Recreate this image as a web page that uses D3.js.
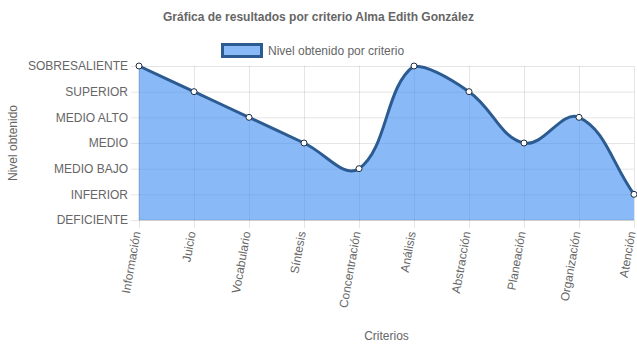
<!DOCTYPE html>
<html>
<head>
<meta charset="utf-8">
<script src="https://cdn.jsdelivr.net/npm/d3@7"></script>
<style>
  body { margin: 0; background: #fff; }
  svg text { font-family: "Liberation Sans", Arial, Helvetica, sans-serif; fill: #666; }
</style>
</head>
<body>
<div id="chart"></div>
<script>
// data
const criterios = ["Información", "Juicio", "Vocabulario", "Síntesis", "Concentración",
                   "Análisis", "Abstracción", "Planeación", "Organización", "Atención"];
const niveles = [6, 5, 4, 3, 2, 6, 5, 3, 4, 1];
const nivelLabels = ["DEFICIENTE", "INFERIOR", "MEDIO BAJO", "MEDIO", "MEDIO ALTO", "SUPERIOR", "SOBRESALIENTE"];
const title = "Gráfica de resultados por criterio Alma Edith González";
const legendLabel = "Nivel obtenido por criterio";

const width = 637, height = 348;
const margin = {top: 66, right: 3, bottom: 128, left: 139};
const innerWidth = width - margin.left - margin.right;
const innerHeight = height - margin.top - margin.bottom;

const lineColor = "#2c5b91";
const fillColor = "rgba(58,138,242,0.6)";
const gridColor = "rgba(0,0,0,0.1)";

const svg = d3.select("#chart").append("svg")
    .attr("width", width)
    .attr("height", height);

const xScale = d3.scalePoint()
    .domain(criterios)
    .range([0, innerWidth]);

const yScale = d3.scaleLinear()
    .domain([0, nivelLabels.length - 1])
    .range([innerHeight, 0]);

const g = svg.append("g")
    .attr("transform", `translate(${margin.left}, ${margin.top})`);

// grid + axes
const yAxis = d3.axisLeft(yScale)
    .tickValues(d3.range(nivelLabels.length))
    .tickFormat(i => nivelLabels[i])
    .tickSize(-innerWidth)
    .tickPadding(11);

const yAxisG = g.append("g").call(yAxis);
yAxisG.select(".domain").remove();
yAxisG.selectAll("line")
    .attr("x1", -8)
    .attr("stroke", gridColor);
yAxisG.selectAll("text")
    .attr("x", -11)
    .style("font-size", "12px");

const xAxis = d3.axisBottom(xScale)
    .tickSize(-innerHeight);

const xAxisG = g.append("g")
    .attr("transform", `translate(0, ${innerHeight})`)
    .call(xAxis);
xAxisG.select(".domain").remove();
xAxisG.selectAll("line")
    .attr("y1", 8)
    .attr("stroke", gridColor);
xAxisG.selectAll("text")
    .style("font-size", "12px")
    .style("text-anchor", "end")
    .attr("y", 0)
    .attr("dy", "0.1em")
    .attr("transform", "translate(0, 12) rotate(-80)");

// axis baselines (slightly darker)
g.append("line")
    .attr("x1", 0).attr("x2", 0)
    .attr("y1", 0).attr("y2", innerHeight)
    .attr("stroke", "rgba(0,0,0,0.18)");
g.append("line")
    .attr("x1", 0).attr("x2", innerWidth)
    .attr("y1", innerHeight).attr("y2", innerHeight)
    .attr("stroke", "rgba(0,0,0,0.18)");

// chart.js style spline control points
const pts = niveles.map((v, i) => ({x: xScale(criterios[i]), y: yScale(v)}));
const tension = 0.4;
const cap = (v, lo, hi) => Math.max(Math.min(v, hi), lo);
pts.forEach((p, i) => {
    const prev = pts[i - 1] || p, next = pts[i + 1] || p;
    const d01 = Math.hypot(p.x - prev.x, p.y - prev.y);
    const d12 = Math.hypot(next.x - p.x, next.y - p.y);
    let s01 = d01 / (d01 + d12), s12 = d12 / (d01 + d12);
    if (isNaN(s01)) s01 = 0;
    if (isNaN(s12)) s12 = 0;
    const fa = tension * s01, fb = tension * s12;
    p.cpPrev = {x: cap(p.x - fa * (next.x - prev.x), 0, innerWidth),
                y: cap(p.y - fa * (next.y - prev.y), 0, innerHeight)};
    p.cpNext = {x: cap(p.x + fb * (next.x - prev.x), 0, innerWidth),
                y: cap(p.y + fb * (next.y - prev.y), 0, innerHeight)};
});

function splinePath(closeArea) {
    const path = d3.path();
    path.moveTo(pts[0].x, pts[0].y);
    for (let i = 1; i < pts.length; i++) {
        const a = pts[i - 1], b = pts[i];
        path.bezierCurveTo(a.cpNext.x, a.cpNext.y, b.cpPrev.x, b.cpPrev.y, b.x, b.y);
    }
    if (closeArea) {
        path.lineTo(pts[pts.length - 1].x, innerHeight);
        path.lineTo(pts[0].x, innerHeight);
        path.closePath();
    }
    return path.toString();
}

g.append("path")
    .attr("d", splinePath(true))
    .attr("fill", fillColor);

g.append("path")
    .attr("d", splinePath(false))
    .attr("fill", "none")
    .attr("stroke", lineColor)
    .attr("stroke-width", 3);

g.selectAll("circle")
    .data(niveles)
    .join("circle")
    .attr("cx", (d, i) => xScale(criterios[i]))
    .attr("cy", d => yScale(d))
    .attr("r", 3)
    .attr("fill", "#fff")
    .attr("stroke", "#1f2f45")
    .attr("stroke-width", 1);

// title
svg.append("text")
    .attr("x", width / 2)
    .attr("y", 21)
    .attr("text-anchor", "middle")
    .style("font-size", "12px")
    .style("font-weight", "bold")
    .text(title);

// legend
svg.append("rect")
    .attr("x", 222.5).attr("y", 44.5)
    .attr("width", 39).attr("height", 12)
    .attr("fill", fillColor)
    .attr("stroke", lineColor)
    .attr("stroke-width", 3);
svg.append("text")
    .attr("x", 268)
    .attr("y", 55)
    .style("font-size", "12px")
    .text(legendLabel);

// axis titles
svg.append("text")
    .attr("transform", `translate(17, ${margin.top + innerHeight / 2}) rotate(-90)`)
    .attr("text-anchor", "middle")
    .style("font-size", "12px")
    .text("Nivel obtenido");

svg.append("text")
    .attr("x", margin.left + innerWidth / 2)
    .attr("y", 340)
    .attr("text-anchor", "middle")
    .style("font-size", "12px")
    .text("Criterios");
</script>
</body>
</html>
